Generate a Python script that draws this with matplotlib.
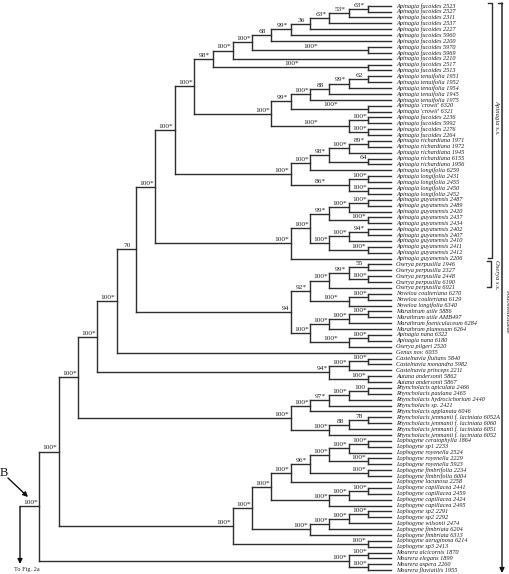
import matplotlib
matplotlib.use("Agg")
import matplotlib.pyplot as plt

plt.rcParams['font.family'] = ['Liberation Serif', 'DejaVu Serif']

# ---------------- data ----------------
LEAVES = [
    "Apinagia fucoides 2523", "Apinagia fucoides 2527", "Apinagia fucoides 2311",
    "Apinagia fucoides 2537", "Apinagia fucoides 2227", "Apinagia fucoides 5960",
    "Apinagia fucoides 2200", "Apinagia fucoides 5970", "Apinagia fucoides 5969",
    "Apinagia fucoides 2210", "Apinagia fucoides 2517", "Apinagia fucoides 2513",
    "Apinagia tenuifolia 1951", "Apinagia tenuifolia 1952", "Apinagia tenuifolia 1954",
    "Apinagia tenuifolia 1945", "Apinagia tenuifolia 1975", "Apinagia 'crowii' 6320",
    "Apinagia 'crowii' 6321", "Apinagia fucoides 2236", "Apinagia fucoides 5992",
    "Apinagia fucoides 2276", "Apinagia fucoides 2264", "Apinagia richardiana 1971",
    "Apinagia richardiana 1972", "Apinagia richardiana 1945", "Apinagia richardiana 6155",
    "Apinagia richardiana 1956", "Apinagia longifolia 6259", "Apinagia longifolia 2431",
    "Apinagia longifolia 2455", "Apinagia longifolia 2450", "Apinagia longifolia 2452",
    "Apinagia guyanensis 2487", "Apinagia guyanensis 2489", "Apinagia guyanensis 2420",
    "Apinagia guyanensis 2437", "Apinagia guyanensis 2434", "Apinagia guyanensis 2402",
    "Apinagia guyanensis 2407", "Apinagia guyanensis 2410", "Apinagia guyanensis 2411",
    "Apinagia guyanensis 2412", "Apinagia guyanensis 2206", "Oserya perpusilla 1946",
    "Oserya perpusilla 2327", "Oserya perpusilla 2448", "Oserya perpusilla 6190",
    "Oserya perpusilla 6021", "Noveloa coulteriana 6270", "Noveloa coulteriana 6129",
    "Noveloa longifolia 6340", "Marathrum utile 5886", "Marathrum utile AMB497",
    "Marathrum foeniculaceum 6284", "Marathrum plumosum 6264", "Apinagia nana 6322",
    "Apinagia nana 6180", "Oserya pilgeri 2520", "Genus nov. 6035",
    "Castelnavia fluitans 5840", "Castelnavia monandra 5982", "Castelnavia princeps 2211",
    "Autana andersonii 5862", "Autana andersonii 5867", "Rhyncholacis apiculata 2466",
    "Rhyncholacis paulana 2465", "Rhyncholacis hydrocichorium 2440", "Rhyncholacis sp. 2421",
    "Rhyncholacis applanata 6046", "Rhyncholacis jenmanii f. laciniata 6052A",
    "Rhyncholacis jenmanii f. laciniata 6060", "Rhyncholacis jenmanii f. laciniata 6051",
    "Rhyncholacis jenmanii f. laciniata 6052", "Lophogyne ceratophylla 1864",
    "Lophogyne sp1 2233", "Lophogyne royenella 2524", "Lophogyne royenella 2229",
    "Lophogyne royenella 5923", "Lophogyne fimbrifolia 2234", "Lophogyne fimbrifolia 6004",
    "Lophogyne lacunosa 2258", "Lophogyne capillacea 2441", "Lophogyne capillacea 2459",
    "Lophogyne capillacea 2424", "Lophogyne capillacea 2495", "Lophogyne sp2 2291",
    "Lophogyne sp2 2292", "Lophogyne wilsonii 2474", "Lophogyne fimbriata 6204",
    "Lophogyne fimbriata 6313", "Lophogyne aeruginosa 6214", "Lophogyne sp3 2413",
    "Mourera alcicornis 1870", "Mourera elegans 1899", "Mourera aspera 2260",
    "Mourera fluviatilis 1955",
]

# clades: (children)label@depth-level ; "|c" = support label centred on branch
FUC1 = "(((((0,1)63*@18,2)53*@17,3)63*@16,4)36@15,5)99*@14"
FUC2 = f"((({FUC1},6)68@13,(7,8)100*|c@18)100*@12,9)100*@11"
FUC = f"({FUC2},(10,11)100*|c@18)98*@10"
TEN = "((((12,13)62@18,14)99*@17,15)88@16,16)100*@15"
CROW = f"(({TEN},(17,18)100*|c@18)99*@14,((19,20)100*@18,(21,22)100*@18)100*|c@17)100*@13"
APIN_A = f"({FUC},{CROW})100*@9"
RICH = "((((23,24)89*@18,25)100*@17,(26,27)64@18)98*@16,28)100*@15"
RLONG = f"({RICH},((29,30)100*@18,(31,32)100*@18)86*|c@17)100*@14"
APIN_B = f"({APIN_A},{RLONG})100*@8"
GUY1 = "(((33,34)100*@18,35)100*@17,(36,37)100*@18)99*@16"
GUY2 = "(((38,39)94*@18,40)100*@17,(41,42)100*@18)100*@16"
GUY = f"(({GUY1},{GUY2})100*@15,43)100*@14"
APIN = f"({APIN_B},{GUY})100*@7"
OSER = "((((44,45)55@18,(46,47)100*@18)99*@17,48)100*@16,((49,50)100*@18,51)100*|c@17)92*@15"
MARA = "((((52,53)100*@18,54)100*@17,55)100*@16,((56,57)100*@18,58)100*|c@17)100*@15"
OSMA = f"({OSER},{MARA})94@14"
N136 = f"({APIN},{OSMA})70@6"
N116 = f"({N136},59)100*@5"
CAST = "(((60,61)100*@18,62)100*@17,(63,64)100*@18)94*@16"
N97 = f"({N116},{CAST})100*@4"
RHYN = "(((((65,66)100@18,67)100*@17,68)97*@16,69)100*@15,(((70,71)78@18,72)88@17,73)100*@16)100*@14"
N78 = f"({N97},{RHYN})100*@3"
LOP1 = "((((74,75)100*@18,76)100*@17,(77,78)100*@18)100*@16,(79,80)100*@18)96*@15"
LOP2 = f"({LOP1},81)100*@14"
LOP3 = "(((82,83)100*@18,84)100*@17,85)100*@16"
LOP4 = f"({LOP2},{LOP3})100*@13"
LOP5 = "((((86,87)100*@18,88)100*@17,89)100*@16,90)100*@15"
LOPH = f"(({LOP4},{LOP5})100*@12,(91,92)100*@18)100*@11"
N59 = f"({N78},{LOPH})100*@2"
MOUR = "((93,94)100*@18,(95,96)100*@18)100*@17"
TREE = f"({N59},{MOUR})100*@1"
ROOT_LABEL = "100*"

# ---------------- layout ----------------
W, H = 510, 574
X0, DX = 20.0, 19.33          # pixel of level 0, pixels per level
Y0, DY = 5.7, 5.88            # pixel of first leaf, pixels per leaf
LEAF_X = (391 - X0) / DX
LABEL_X = (396 - X0) / DX
LC = "#2e2e2e"
LW = 1.0


def px_x(p):
    return (p - X0) / DX


def px_y(p):
    return (p - Y0) / DY


def parse(s):
    pos = 0

    def node():
        nonlocal pos
        if s[pos] == '(':
            pos += 1
            kids = [node()]
            while s[pos] == ',':
                pos += 1
                kids.append(node())
            pos += 1
            j = pos
            while pos < len(s) and s[pos] not in ',)':
                pos += 1
            lab, lev = s[j:pos].rsplit('@', 1)
            cen = lab.endswith('|c')
            return dict(kids=kids, label=lab.replace('|c', ''), level=float(lev), centered=cen)
        j = pos
        while s[pos] not in ',)':
            pos += 1
        return dict(leaf=int(s[j:pos]))
    return node()


def set_y(n):
    if 'leaf' in n:
        n['y'] = float(n['leaf'])
    else:
        for k in n['kids']:
            set_y(k)
        n['y'] = (n['kids'][0]['y'] + n['kids'][-1]['y']) / 2
    return n['y']


root = parse(TREE)
set_y(root)

fig = plt.figure(figsize=(W / 100, H / 100), dpi=100)
ax = fig.add_axes([0, 0, 1, 1])
ax.set_xlim(px_x(0), px_x(W))
ax.set_ylim(px_y(H), px_y(0))
ax.axis('off')

BS_FONT = dict(fontsize=5.3, color='#222222')


def support(x0, x1, y, label, centered):
    if centered or (x1 - x0) <= 1.01:
        ax.annotate(label, xy=((x0 + x1) / 2, y), xytext=(0.8, 0.8), textcoords='offset points',
                    ha='center', va='bottom', **BS_FONT)
    else:
        ax.annotate(label, xy=(x1, y), xytext=(-1.0, 0.8), textcoords='offset points',
                    ha='right', va='bottom', **BS_FONT)


def draw(n):
    x = n['level']
    ax.plot([x, x], [n['kids'][0]['y'], n['kids'][-1]['y']], color=LC, lw=LW,
            solid_capstyle='projecting')
    for k in n['kids']:
        kx = LEAF_X if 'leaf' in k else k['level']
        ax.plot([x, kx], [k['y'], k['y']], color=LC, lw=LW, solid_capstyle='projecting')
        if 'leaf' in k:
            ax.text(LABEL_X, k['y'], LEAVES[k['leaf']], fontsize=4.5, style='italic',
                    ha='left', va='center', color='#1e1e1e')
        else:
            support(x, kx, k['y'], k['label'], k['centered'])
            draw(k)


draw(root)

# root stem and arrow to Fig. 2a
ax.plot([0, root['level']], [root['y'], root['y']], color=LC, lw=LW, solid_capstyle='projecting')
support(0, root['level'], root['y'], ROOT_LABEL, True)
ax.annotate('', xy=(0, px_y(564)), xytext=(0, root['y']),
            arrowprops=dict(arrowstyle='-|>', color='#111111', lw=LW, mutation_scale=7,
                            shrinkA=0, shrinkB=0))
ax.text(px_x(27), px_y(569), "To Fig. 2a", fontsize=4.5, ha='center', va='center', color='#222222')
ax.text(px_x(4), px_y(473), "B", fontsize=9, ha='center', va='center', color='#111111')
ax.annotate('', xy=(px_x(28), px_y(497)), xytext=(px_x(8), px_y(478)),
            arrowprops=dict(arrowstyle='-|>', color='#111111', lw=LW, mutation_scale=7,
                            shrinkA=0, shrinkB=0))

# right-hand brackets
def bracket(xp, y0p, y1p, tick=4):
    x = px_x(xp)
    t = tick / DX
    ax.plot([x - t, x, x, x - t], [px_y(y0p), px_y(y0p), px_y(y1p), px_y(y1p)],
            color=LC, lw=LW)


bracket(492, 3, 258)
ax.text(px_x(497), px_y(117), "Apinagia s.s.", rotation=-90, fontsize=4.8, style='italic',
        ha='center', va='center', color='#222222')
bracket(491, 261, 287)
ax.text(px_x(497), px_y(275), "Oserya s.s.", rotation=-90, fontsize=4.8, style='italic',
        ha='center', va='center', color='#222222')
ax.plot([px_x(498), px_x(502)], [px_y(3), px_y(3)], color=LC, lw=LW)
ax.annotate('', xy=(px_x(502), px_y(573)), xytext=(px_x(502), px_y(3)),
            arrowprops=dict(arrowstyle='-|>', color='#111111', lw=LW, mutation_scale=7,
                            shrinkA=0, shrinkB=0))
ax.text(px_x(507), px_y(312), "Podostemoideae", rotation=-90, fontsize=4.8,
        ha='center', va='center', color='#222222')

fig.savefig("out.png", dpi=100)
